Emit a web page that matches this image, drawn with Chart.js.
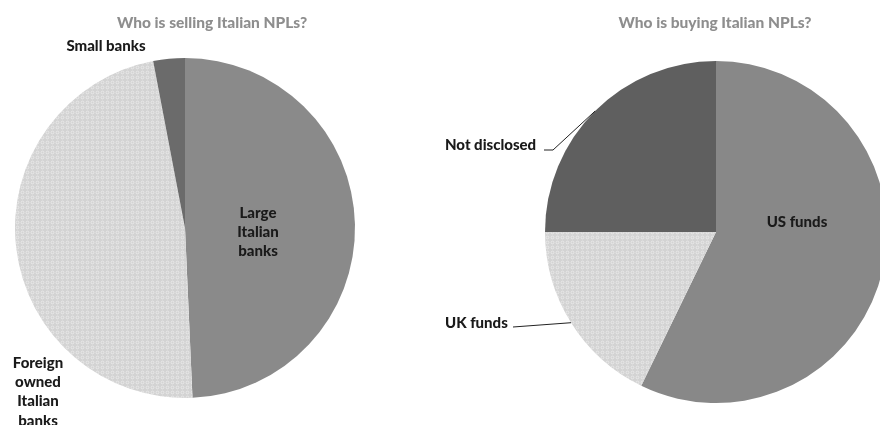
<!DOCTYPE html>
<html lang="en">
<head>
  <meta charset="UTF-8" />
  <title>Italian NPLs</title>
  <script src="https://cdn.jsdelivr.net/npm/chart.js"></script>
  <style>
    html, body {
      margin: 0;
      background: #fff;
      width: 880px;
      height: 425px;
      overflow: hidden;
      position: relative;
    }
    canvas { position: absolute; top: 0; }
  </style>
</head>
<body>
  <canvas id="sellers" width="440" height="425" style="left:0"></canvas>
  <canvas id="buyers" width="460" height="425" style="left:440px"></canvas>

  <script>
    // sellers pie (clockwise from 12 o'clock)
    const sellerLabels = ['Large Italian banks', 'Foreign owned Italian banks', 'Small banks'];
    const sellerShares = [49.3, 47.7, 3];

    // buyers pie
    const buyerLabels = ['US funds', 'UK funds', 'Not disclosed'];
    const buyerShares = [57.2, 17.8, 25];

    const titles = ['Who is selling Italian NPLs?', 'Who is buying Italian NPLs?'];

    // dotted light fill used for the pale slices
    function dotPattern() {
      const c = document.createElement('canvas');
      c.width = 5; c.height = 5;
      const g = c.getContext('2d');
      g.fillStyle = '#d3d3d3';
      g.fillRect(0, 0, 5, 5);
      g.strokeStyle = '#ececec';
      g.lineWidth = 0.8;
      g.beginPath();
      g.arc(2.5, 2.5, 1.4, 0, Math.PI * 2);
      g.stroke();
      return g.createPattern(c, 'repeat');
    }
    const dots = dotPattern();

    // titles, slice labels and leader lines
    const pieText = {
      id: 'pieText',
      afterDraw(chart, args, opts) {
        const ctx = chart.ctx;
        const arcs = chart.getDatasetMeta(0).data;
        ctx.save();
        ctx.textAlign = 'center';
        ctx.textBaseline = 'middle';
        ctx.font = '900 15.5px Lato';
        ctx.fillStyle = '#8e8e8e';
        ctx.fillText(opts.title, opts.titleX, 23);

        ctx.font = '900 15px Lato';
        ctx.fillStyle = '#1a1a1a';
        opts.labels.forEach((lb, i) => {
          ctx.textAlign = lb.align || 'center';
          lb.lines.forEach((t, k) => ctx.fillText(t, lb.x, lb.y + k * 19.3));
          if (lb.leader) {
            const a = arcs[i];
            const mid = (a.startAngle + a.endAngle) / 2;
            const ex = a.x + Math.cos(mid) * a.outerRadius;
            const ey = a.y + Math.sin(mid) * a.outerRadius;
            ctx.strokeStyle = '#222';
            ctx.lineWidth = 1;
            ctx.beginPath();
            ctx.moveTo(lb.leader[0][0], lb.leader[0][1]);
            lb.leader.slice(1).forEach(p => ctx.lineTo(p[0], p[1]));
            ctx.lineTo(ex, ey);
            ctx.stroke();
          }
        });
        ctx.restore();
      }
    };

    function makePie(id, labels, values, colors, padding, text) {
      return new Chart(document.getElementById(id), {
        type: 'pie',
        data: {
          labels: labels,
          datasets: [{
            data: values,
            backgroundColor: colors,
            borderWidth: 0
          }]
        },
        options: {
          responsive: false,
          animation: false,
          layout: { padding: padding },
          plugins: {
            legend: { display: false },
            tooltip: { enabled: false },
            pieText: text
          }
        },
        plugins: [pieText]
      });
    }

    makePie('sellers', sellerLabels, sellerShares, ['#8a8a8a', dots, '#6b6b6b'],
      { left: 15, right: 85, top: 58, bottom: 27 },
      {
        title: titles[0], titleX: 212,
        labels: [
          { lines: ['Large', 'Italian', 'banks'], x: 258, y: 213 },
          { lines: ['Foreign', 'owned', 'Italian', 'banks'], x: 38, y: 363 },
          { lines: ['Small banks'], x: 106, y: 46 }
        ]
      });

    makePie('buyers', buyerLabels, buyerShares, ['#888888', dots, '#5f5f5f'],
      { left: 105, right: 13, top: 61, bottom: 22 },
      {
        title: titles[1], titleX: 275,
        labels: [
          { lines: ['US funds'], x: 357, y: 222 },
          { lines: ['UK funds'], x: 5, y: 323, align: 'left', leader: [[73, 327]] },
          { lines: ['Not disclosed'], x: 5, y: 145, align: 'left', leader: [[104, 150], [113, 150]] }
        ]
      });
  </script>
</body>
</html>
